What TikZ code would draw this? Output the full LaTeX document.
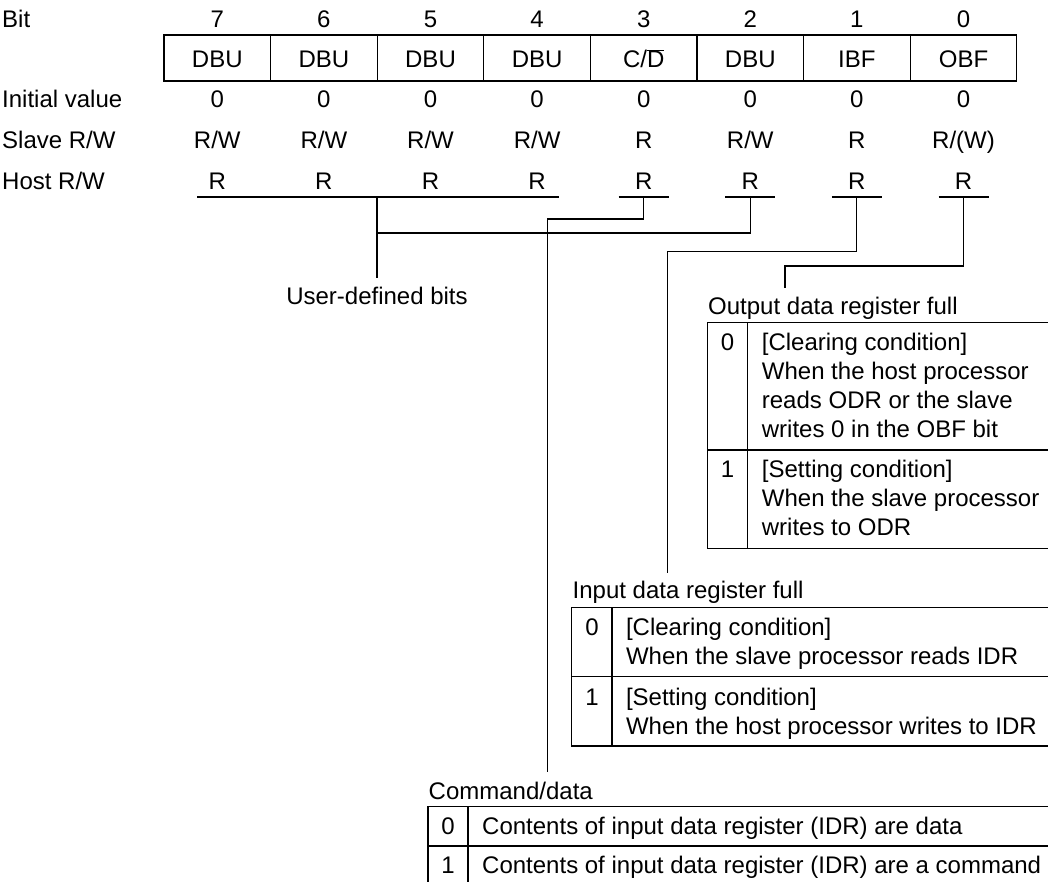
\documentclass[tikz,border=0pt]{standalone}
\usepackage{fontspec}
\setmainfont{Liberation Sans}
\newcommand{\fsz}{\fontsize{24}{29}\selectfont}
\begin{document}
\begin{tikzpicture}[x=1pt,y=-1pt,
  every node/.style={font=\fsz, inner sep=0pt},
  lbl/.style={anchor=base west},
  ctr/.style={anchor=base},
  cellbox/.style={draw, line width=1.2pt, minimum width=106.6pt, minimum height=46pt, text height=20pt, text depth=0pt},
  ln/.style={line width=1.2pt},
  conn/.style={line width=1.1pt}]
\useasboundingbox (0,0) rectangle (1048,882);

% row headings
\node[lbl] (hbit) at (2,28) {Bit};
\node[lbl] (hinit) at (2,108) {Initial value};
\node[lbl] (hslave) at (2,149) {Slave R/W};
\node[lbl] (hhost) at (2,190) {Host R/W};

% register
\foreach \b/\name/\sl [count=\i from 0] in {7/DBU/{R/W},6/DBU/{R/W},5/DBU/{R/W},4/DBU/{R/W},3/{C/$\overline{\hbox{D}}$}/R,2/DBU/{R/W},1/IBF/R,0/OBF/{R/(W)}}{
  \pgfmathsetmacro{\cx}{164+(\i+0.5)*106.6}
  \node[ctr] (n\b) at (\cx,28) {\b};
  \node[cellbox] (c\b) at (\cx,58) {\name};
  \node[ctr] (iv\b) at (\cx,108) {0};
  \node[ctr] (sv\b) at (\cx,149) {\sl};
  \node[ctr] (hv\b) at (\cx,190) {R};
}

% lines under host row
\draw[ln] (197,197) -- (559,197);
\draw[ln] (618.7,197) -- (668.7,197);
\draw[ln] (725.3,197) -- (775.3,197);
\draw[ln] (831.9,197) -- (881.9,197);
\draw[ln] (938.5,197) -- (988.5,197);

\coordinate (ud0) at (377,197);
\coordinate (ud1) at (377,278);
\coordinate (ud2) at (377,233);
\coordinate (b2a) at (750.3,197);
\coordinate (b2b) at (750.3,233);
\coordinate (cd0) at (643.7,197);
\coordinate (cd1) at (643.7,219);
\coordinate (cd2) at (547.5,219);
\coordinate (cd3) at (547.5,772);
\coordinate (ib0) at (856.9,197);
\coordinate (ib1) at (856.9,251.5);
\coordinate (ib2) at (667.7,251.5);
\coordinate (ib3) at (667.7,573);
\coordinate (ob0) at (963.5,197);
\coordinate (ob1) at (963.5,266);
\coordinate (ob2) at (785,266);
\coordinate (ob3) at (785,288);

\draw[conn] (ud0) -- (ud1);
\draw[conn] (ud2) -- (b2b) -- (b2a);
\draw[conn] (cd0) -- (cd1) -- (cd2) -- (cd3);
\draw[conn] (ib0) -- (ib1) -- (ib2) -- (ib3);
\draw[conn] (ob0) -- (ob1) -- (ob2) -- (ob3);

\node[ctr] (udt) at (377,305) {User-defined bits};

% Output data register full
\node[lbl] (obft) at (708,314) {Output data register full};
\draw[ln] (1048,322.7) -- (707.7,322.7) -- (707.7,548.3) -- (1048,548.3);
\draw[ln] (707.7,450) -- (1048,450);
\draw[ln] (747.3,322.7) -- (747.3,548.3);
\node[ctr] (o0) at (727.5,350) {0};
\node[lbl] (o0a) at (761.7,350) {[Clearing condition]};
\node[lbl] (o0b) at (761.7,379) {When the host processor};
\node[lbl] (o0c) at (761.7,408) {reads ODR or the slave};
\node[lbl] (o0d) at (761.7,437) {writes 0 in the OBF bit};
\node[ctr] (o1) at (727.5,477) {1};
\node[lbl] (o1a) at (761.7,477) {[Setting condition]};
\node[lbl] (o1b) at (761.7,506) {When the slave processor};
\node[lbl] (o1c) at (761.7,535) {writes to ODR};

% Input data register full
\node[lbl] (ibft) at (572.5,598) {Input data register full};
\draw[ln] (1048,607.7) -- (571.7,607.7) -- (571.7,746) -- (1048,746);
\draw[ln] (571.7,676.7) -- (1048,676.7);
\draw[ln] (612,607.7) -- (612,746);
\node[ctr] (i0) at (592,635) {0};
\node[lbl] (i0a) at (625.8,635) {[Clearing condition]};
\node[lbl] (i0b) at (625.8,664) {When the slave processor reads IDR};
\node[ctr] (i1) at (592,705) {1};
\node[lbl] (i1a) at (625.8,705) {[Setting condition]};
\node[lbl] (i1b) at (625.8,734) {When the host processor writes to IDR};

% Command/data
\node[lbl] (cdt) at (428.5,799) {Command/data};
\draw[ln] (1048,806.7) -- (428,806.7) -- (428,882);
\draw[ln] (428,846) -- (1048,846);
\draw[ln] (468,806.7) -- (468,882);
\node[ctr] (d0) at (448,834) {0};
\node[lbl] (d0a) at (482,834) {Contents of input data register (IDR) are data};
\node[ctr] (d1) at (448,873) {1};
\node[lbl] (d1a) at (482,873) {Contents of input data register (IDR) are a command};
\end{tikzpicture}
\end{document}
